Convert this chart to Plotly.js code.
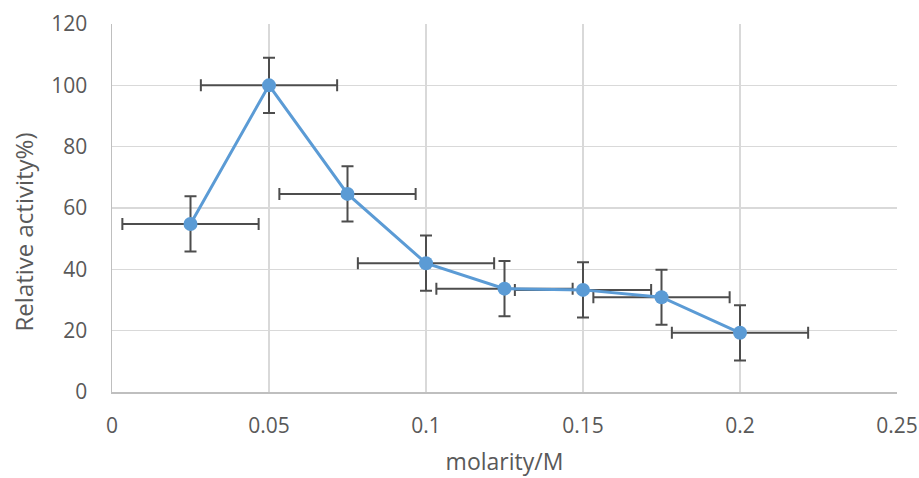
<!DOCTYPE html>
<html>
<head>
<meta charset="utf-8">
<script src="https://cdn.plot.ly/plotly-3.0.1.min.js"></script>
<style>html,body{margin:0;padding:0;background:#fff;}#chart{width:919px;height:478px;}</style>
</head>
<body>
<div id="chart"></div>
<script>
const molarity = [0.025, 0.05, 0.075, 0.1, 0.125, 0.15, 0.175, 0.2];
const activity = [54.8, 100, 64.6, 42.0, 33.7, 33.3, 30.9, 19.3];
const activityErr = [9, 9, 9, 9, 9, 9, 9, 9];
const molarityErr = [0.0217, 0.0217, 0.0217, 0.0217, 0.0217, 0.0217, 0.0217, 0.0217];
const xTicks = [0, 0.05, 0.1, 0.15, 0.2, 0.25];
const xTickText = ['0', '0.05', '0.1', '0.15', '0.2', '0.25'];
const yTicks = [0, 20, 40, 60, 80, 100, 120];
const xTitle = 'molarity/M';
const yTitle = 'Relative activity%)';

const font = 'Open Sans, Liberation Sans, sans-serif';
const textColor = '#595959';
const trace = {
  x: molarity, y: activity, type: 'scatter', mode: 'lines+markers',
  line: {color: '#5B9BD5', width: 3},
  marker: {color: '#5B9BD5', size: 14},
  error_y: {type: 'data', array: activityErr, visible: true, color: '#4d4d4d', thickness: 2, width: 6},
  error_x: {type: 'data', array: molarityErr, visible: true, color: '#4d4d4d', thickness: 2, width: 6},
  showlegend: false
};
const layout = {
  width: 919, height: 478,
  margin: {l: 112, r: 22, t: 24, b: 86},
  paper_bgcolor: '#ffffff', plot_bgcolor: '#ffffff',
  font: {family: font, color: textColor, size: 21},
  xaxis: {
    range: [0, 0.25], tickvals: xTicks, ticktext: xTickText,
    showgrid: true, gridcolor: '#d9d9d9', gridwidth: 1.5,
    zeroline: false, showline: true, linecolor: '#bfbfbf', linewidth: 1.5,
    ticks: '', ticklabelstandoff: 14,
    tickfont: {family: font, size: 21, color: textColor},
    title: {text: xTitle, font: {family: font, size: 23, color: textColor}, standoff: 16}
  },
  yaxis: {
    range: [0, 120], tickvals: yTicks,
    showgrid: true, gridcolor: '#d9d9d9', gridwidth: 1.5,
    zeroline: false, showline: true, linecolor: '#bfbfbf', linewidth: 1.5,
    ticks: '', ticklabelstandoff: 19,
    tickfont: {family: font, size: 21, color: textColor}
  },
  annotations: [{
    text: yTitle, xref: 'paper', yref: 'paper',
    x: -0.1115, y: 0.4348, xanchor: 'center', yanchor: 'middle',
    textangle: -90, showarrow: false,
    font: {family: font, size: 24, color: textColor}
  }]
};
Plotly.newPlot('chart', [trace], layout, {displayModeBar: false, staticPlot: true});
</script>
</body>
</html>
